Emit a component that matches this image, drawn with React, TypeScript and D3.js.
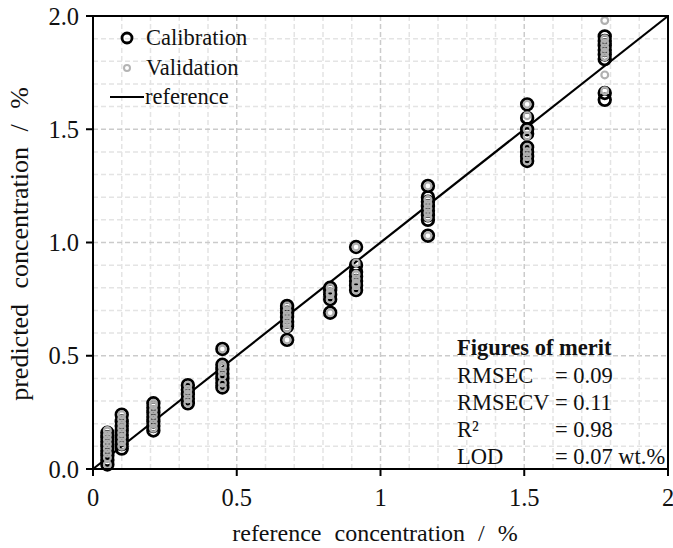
import React from "react";
import * as d3 from "d3";

const refLevels = [0.05, 0.1, 0.21, 0.33, 0.45, 0.675, 0.825, 0.915, 1.165, 1.51, 1.78];
const calibration: number[][] = [
  [0.02, 0.04, 0.06, 0.08, 0.1, 0.12, 0.14, 0.16],
  [0.09, 0.11, 0.13, 0.15, 0.17, 0.19, 0.21, 0.24],
  [0.17, 0.19, 0.21, 0.23, 0.25, 0.27, 0.29],
  [0.29, 0.31, 0.33, 0.35, 0.37],
  [0.36, 0.38, 0.4, 0.42, 0.44, 0.46, 0.53],
  [0.57, 0.63, 0.65, 0.67, 0.69, 0.71, 0.72],
  [0.69, 0.75, 0.77, 0.79, 0.8],
  [0.79, 0.81, 0.83, 0.85, 0.87, 0.9, 0.98],
  [1.03, 1.1, 1.12, 1.14, 1.16, 1.18, 1.2, 1.25],
  [1.36, 1.38, 1.4, 1.42, 1.48, 1.5, 1.55, 1.61],
  [1.63, 1.66, 1.81, 1.83, 1.85, 1.87, 1.89, 1.91],
];
const validation: number[][] = [
  [0.02, 0.05, 0.07, 0.09, 0.11, 0.13, 0.15, 0.17],
  [0.1, 0.12, 0.14, 0.16, 0.18, 0.2, 0.22, 0.24],
  [0.18, 0.2, 0.22, 0.24, 0.26, 0.28, 0.29],
  [0.29, 0.31, 0.33, 0.35, 0.37],
  [0.36, 0.38, 0.41, 0.43, 0.45, 0.46, 0.53],
  [0.57, 0.62, 0.64, 0.66, 0.68, 0.7, 0.72],
  [0.69, 0.75, 0.77, 0.78, 0.8],
  [0.79, 0.81, 0.82, 0.84, 0.86, 0.91, 0.98],
  [1.03, 1.11, 1.13, 1.15, 1.17, 1.19, 1.25],
  [1.36, 1.38, 1.4, 1.42, 1.47, 1.5, 1.56, 1.61],
  [1.67, 1.74, 1.82, 1.84, 1.86, 1.88, 1.9, 1.98],
];
const xTicks = [0, 0.5, 1, 1.5, 2];
const xTickLabels = ["0", "0.5", "1", "1.5", "2"];
const yTicks = [0, 0.5, 1, 1.5, 2];
const yTickLabels = ["0.0", "0.5", "1.0", "1.5", "2.0"];
const meritNames = ["RMSEC", "RMSECV", "R²", "LOD"];
const meritValues = ["= 0.09", "= 0.11", "= 0.98", "= 0.07 wt.%"];

const W = 673;
const H = 548;
const m = { left: 93, right: 668, top: 16, bottom: 469 };
const font = "'Liberation Serif', 'Times New Roman', serif";

export default function App() {
  const x = d3.scaleLinear().domain([0, 2]).range([m.left, m.right]);
  const y = d3.scaleLinear().domain([0, 2]).range([m.bottom, m.top]);
  const minor = d3.range(1, 20).map((i) => i / 10);
  const line = d3.line<[number, number]>().x((d) => x(d[0])).y((d) => y(d[1]));

  const calPts: [number, number][] = [];
  calibration.forEach((arr, i) => arr.forEach((v) => calPts.push([refLevels[i], v])));
  const valPts: [number, number][] = [];
  validation.forEach((arr, i) => arr.forEach((v) => valPts.push([refLevels[i], v])));

  return (
    <svg width={W} height={H} style={{ position: "absolute", left: 0, top: 0, background: "#fff" }} fontFamily={font}>
      <rect x={0} y={0} width={W} height={H} fill="#fff" />
      {/* grid */}
      {minor.map((v) => {
        const major = Math.abs(v * 2 - Math.round(v * 2)) < 1e-6;
        return (
          <g key={"g" + v}>
            <line x1={x(v)} x2={x(v)} y1={m.top} y2={m.bottom} stroke={major ? "#cbcbcb" : "#e4e4e4"} strokeWidth={1.5} strokeDasharray="5,3" />
            <line x1={m.left} x2={m.right} y1={y(v)} y2={y(v)} stroke={major ? "#cbcbcb" : "#e4e4e4"} strokeWidth={1.5} strokeDasharray="5,3" />
          </g>
        );
      })}
      {/* reference line */}
      <path d={line([[0, 0], [2, 2]]) || ""} stroke="#000" strokeWidth={2.2} fill="none" />
      {/* calibration */}
      {calPts.map((p, i) => (
        <circle key={"c" + i} cx={x(p[0])} cy={y(p[1])} r={5.8} fill="none" stroke="#000" strokeWidth={2.8} />
      ))}
      {valPts.map((p, i) => (
        <circle key={"v" + i} cx={x(p[0])} cy={y(p[1])} r={3.4} fill="none" stroke="#b0b0b0" strokeWidth={2.2} />
      ))}
      {/* frame */}
      <rect x={m.left} y={m.top} width={m.right - m.left} height={m.bottom - m.top} fill="none" stroke="#000" strokeWidth={2} />
      {/* ticks */}
      {xTicks.map((t, i) => (
        <g key={"xt" + t}>
          <line x1={x(t)} x2={x(t)} y1={m.bottom} y2={m.bottom + 7} stroke="#000" strokeWidth={2} />
          <text x={x(t)} y={506} fontSize={24.5} textAnchor="middle" fill="#111">{xTickLabels[i]}</text>
        </g>
      ))}
      {yTicks.map((t, i) => (
        <g key={"yt" + t}>
          <line x1={m.left - 7} x2={m.left} y1={y(t)} y2={y(t)} stroke="#000" strokeWidth={2} />
          <text x={79} y={y(t) + 8.5} fontSize={24.5} textAnchor="end" fill="#111">{yTickLabels[i]}</text>
        </g>
      ))}
      <text x={375} y={541} fontSize={24} textAnchor="middle" fill="#111" wordSpacing={7}>reference concentration / %</text>
      <text transform={`translate(28,244) rotate(-90)`} fontSize={26} textAnchor="middle" fill="#111" wordSpacing={9}>predicted concentration / %</text>
      {/* legend */}
      <circle cx={127} cy={38} r={5} fill="none" stroke="#000" strokeWidth={2.8} />
      <text x={146} y={45} fontSize={22.5} fill="#111">Calibration</text>
      <circle cx={127} cy={68} r={3} fill="none" stroke="#b4b4b4" strokeWidth={2} />
      <text x={146} y={75} fontSize={22.5} fill="#111">Validation</text>
      <line x1={110} x2={144} y1={97} y2={97} stroke="#000" strokeWidth={2.2} />
      <text x={145} y={104} fontSize={22.5} fill="#111">reference</text>
      {/* figures of merit */}
      <text x={457} y={355} fontSize={22.5} fontWeight="bold" fill="#111">Figures of merit</text>
      {meritNames.map((n, i) => (
        <g key={n}>
          <text x={457} y={382.5 + i * 27.3} fontSize={22.5} fill="#111">{n}</text>
          <text x={555} y={382.5 + i * 27.3} fontSize={22.5} fill="#111">{meritValues[i]}</text>
        </g>
      ))}
    </svg>
  );
}
